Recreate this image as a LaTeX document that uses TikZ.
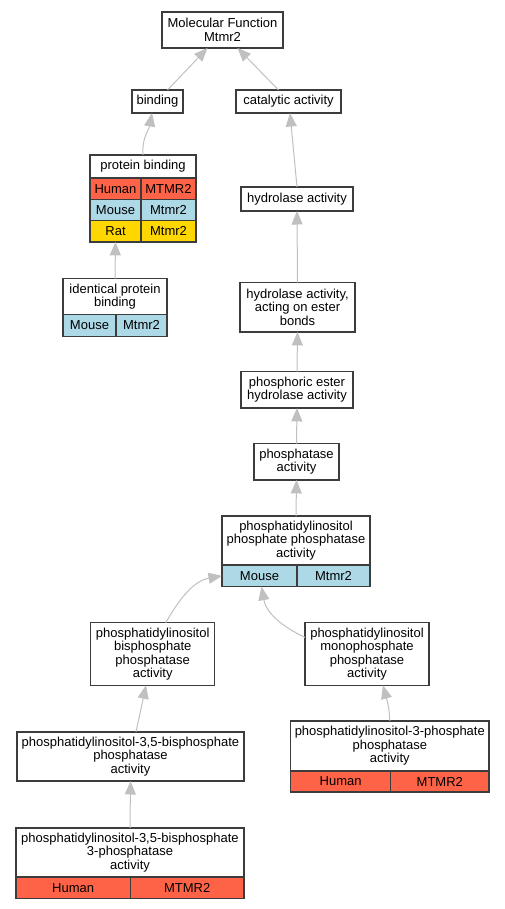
\documentclass[tikz,border=0pt]{standalone}
\usepackage{fontspec}
\setmainfont{Liberation Sans}
\usepackage{xcolor}
\usepackage{tikz}
\usetikzlibrary{arrows.meta,positioning}
\definecolor{GHuman}{HTML}{FF6347}
\definecolor{GMouse}{HTML}{ADD8E6}
\definecolor{GRat}{HTML}{FFD700}
\definecolor{GLine}{HTML}{3C3C3C}
\definecolor{GEdge}{HTML}{C0C0C0}

\begin{document}
\begin{tikzpicture}[
  x=1pt,y=-1pt,
  term/.style={draw=GLine,fill=white,line width=1.3pt,inner sep=0pt,outer sep=0pt,
    align=center,font=\fontsize{13}{13.4}\selectfont},
  cell/.style={term,anchor=north west},
  isa/.style={-{Triangle[length=13.5pt,width=11pt]},line width=1pt,color=GEdge}
]
  \useasboundingbox (0,0) rectangle (504,909);
  % top of the tree
  \node[term,minimum width=121pt,minimum height=36pt] (mf) at (222.5,30)
    {Molecular Function\\Mtmr2};
  \node[term,minimum width=51pt,minimum height=23pt] (bind) at (157.5,101.5) {binding};
  \node[term,minimum width=105pt,minimum height=23pt] (cat) at (288.5,101.5)
    {catalytic activity};
  % binding branch
  \node[term,minimum width=106pt,minimum height=23pt] (pb) at (143,166.5) {protein binding};
  \node[cell,fill=GHuman,minimum width=51pt,minimum height=21.3pt] (pbh) at (pb.south west) {Human};
  \node[cell,fill=GHuman,minimum width=55pt,minimum height=21.3pt] (pbhg) at (pbh.north east) {MTMR2};
  \node[cell,fill=GMouse,minimum width=51pt,minimum height=21.3pt] (pbm) at (pbh.south west) {Mouse};
  \node[cell,fill=GMouse,minimum width=55pt,minimum height=21.3pt] (pbmg) at (pbm.north east) {Mtmr2};
  \node[cell,fill=GRat,minimum width=51pt,minimum height=21.3pt] (pbr) at (pbm.south west) {Rat};
  \node[cell,fill=GRat,minimum width=55pt,minimum height=21.3pt] (pbrg) at (pbr.north east) {Mtmr2};
  \node[term,minimum width=104pt,minimum height=35.6pt] (ipb) at (115,296.5)
    {identical protein\\binding};
  \node[cell,fill=GMouse,minimum width=53pt,minimum height=22pt] (ipbm) at (ipb.south west) {Mouse};
  \node[cell,fill=GMouse,minimum width=51pt,minimum height=22pt] (ipbmg) at (ipbm.north east) {Mtmr2};
  % catalytic branch
  \node[term,minimum width=112pt,minimum height=24pt] (hyd) at (297,199) {hydrolase activity};
  \node[term,minimum width=115pt,minimum height=49.3pt] (ester) at (297.5,307.3)
    {hydrolase activity,\\acting on ester\\bonds};
  \node[term,minimum width=112pt,minimum height=36.3pt] (phe) at (297,389.8)
    {phosphoric ester\\hydrolase activity};
  \node[term,minimum width=85pt,minimum height=36.3pt] (pase) at (296.5,461.8)
    {phosphatase\\activity};
  \node[term,minimum width=148pt,minimum height=49pt] (pipp) at (296,540.5)
    {phosphatidylinositol\\phosphate phosphatase\\activity};
  \node[cell,fill=GMouse,minimum width=75pt,minimum height=21.7pt] (pippm) at (pipp.south west) {Mouse};
  \node[cell,fill=GMouse,minimum width=73pt,minimum height=21.7pt] (pippmg) at (pippm.north east) {Mtmr2};
  \node[term,minimum width=124pt,minimum height=62.6pt] (bis) at (152.7,654)
    {phosphatidylinositol\\bisphosphate\\phosphatase\\activity};
  \node[term,minimum width=124pt,minimum height=62.6pt] (mono) at (367,654)
    {phosphatidylinositol\\monophosphate\\phosphatase\\activity};
  \node[term,minimum width=227pt,minimum height=49pt] (bis35) at (130.5,756.5)
    {phosphatidylinositol-3,5-bisphosphate\\phosphatase\\activity};
  \node[term,minimum width=198.3pt,minimum height=50pt] (p3p) at (389.8,746)
    {phosphatidylinositol-3-phosphate\\phosphatase\\activity};
  \node[cell,fill=GHuman,minimum width=100pt,minimum height=21pt] (p3ph) at (p3p.south west) {Human};
  \node[cell,fill=GHuman,minimum width=98.3pt,minimum height=21pt] (p3phg) at (p3ph.north east) {MTMR2};
  \node[term,minimum width=228pt,minimum height=49pt] (three) at (130,852.5)
    {phosphatidylinositol-3,5-bisphosphate\\3-phosphatase\\activity};
  \node[cell,fill=GHuman,minimum width=114.3pt,minimum height=21.7pt] (threeh) at (three.south west) {Human};
  \node[cell,fill=GHuman,minimum width=113.7pt,minimum height=21.7pt] (threehg) at (threeh.north east) {MTMR2};
  % is_a edges
  \draw[isa] ([xshift=10pt]bind.north) -- ([xshift=-15pt]mf.south);
  \draw[isa] ([xshift=-10pt]cat.north) -- ([xshift=15pt]mf.south);
  \draw[isa] (pb.north) to[out=95,in=-100] ([xshift=-5.5pt]bind.south);
  \draw[isa] (ipb.north) -- (pbr.south);
  \draw[isa] (hyd.north) -- ([xshift=1.5pt]cat.south);
  \draw[isa] (ester.north) -- (hyd.south);
  \draw[isa] (phe.north) -- (ester.south);
  \draw[isa] (pase.north) -- (phe.south);
  \draw[isa] (pipp.north) -- (pase.south);
  \draw[isa] ([xshift=13pt]bis.north) to[out=60,in=190] (pippm.west);
  \draw[isa] (mono.165) to[out=155,in=-80] ([xshift=2pt]pippm.south);
  \draw[isa] ([xshift=5.5pt]bis35.north) -- ([xshift=-6.7pt]bis.south);
  \draw[isa] (p3p.north) to[out=92,in=-75] ([xshift=16pt]mono.south);
  \draw[isa] (three.north) -- (bis35.south);
\end{tikzpicture}
\end{document}
